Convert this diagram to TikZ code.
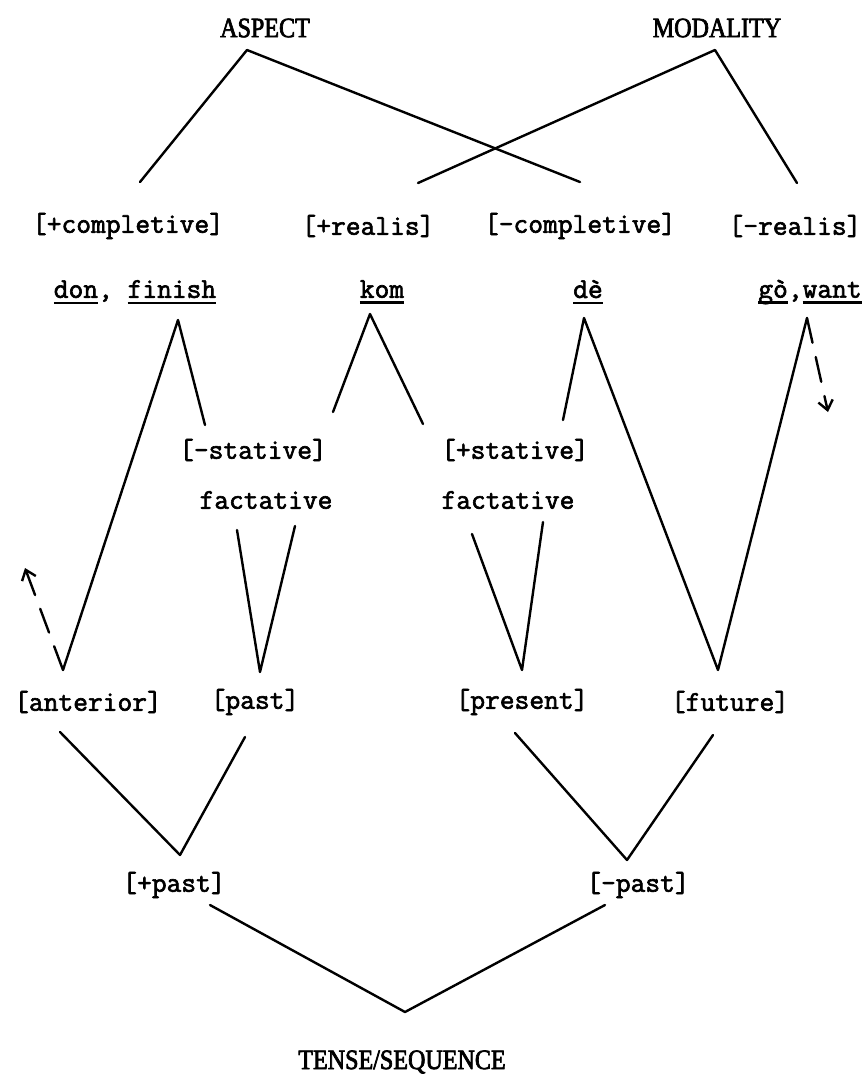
\documentclass[tikz,border=0pt]{standalone}
\usepackage{fontspec}
\newfontfamily\typew{Latin Modern Mono}[FakeBold=2.2]
\newfontfamily\capsfont{Liberation Serif}[FakeBold=2.5,FakeStretch=0.86]
\usetikzlibrary{arrows.meta}
\newcommand\myul[1]{\setbox0\hbox{#1}\leavevmode\rlap{\rule[-4.5pt]{\wd0}{1.7pt}}\box0}
\begin{document}
\begin{tikzpicture}[x=0.75pt,y=-0.75pt, line width=1.8pt, line cap=round, line join=round,
 lbl/.style={inner sep=0pt, font=\typew\fontsize{21.5}{23}\selectfont},
 capnode/.style={inner sep=0pt, font=\capsfont\fontsize{21}{22}\selectfont},
 dasharrow/.style={dash pattern=on 19pt off 11pt, -{Straight Barb[length=7pt,width=11pt]}}]
\useasboundingbox (0,0) rectangle (868,1086);
% labels
\node[capnode] (aspect) at (265,28) {ASPECT};
\node[capnode] (modality) at (717,28) {MODALITY};
\node[lbl] (pcompl) at (128,226) {[+completive]};
\node[lbl] (preal) at (368,226) {[+realis]};
\node[lbl] (mcompl) at (580,226) {[-completive]};
\node[lbl] (mreal) at (795,226) {[-realis]};
\node[lbl] (don) at (135,292) {\myul{don}, \myul{finish}};
\node[lbl] (kom) at (382,292) {\myul{kom}};
\node[lbl] (de) at (588,292) {\myul{dè}};
\node[lbl] (go) at (810,292) {\myul{gò},\myul{want}};
\node[lbl] (mstat) at (253,450) {[-stative]};
\node[lbl] (pstat) at (515,450) {[+stative]};
\node[lbl] (fact1) at (266,500) {factative};
\node[lbl] (fact2) at (508,500) {factative};
\node[lbl] (ant) at (88,702) {[anterior]};
\node[lbl] (past) at (255,702) {[past]};
\node[lbl] (pres) at (522,702) {[present]};
\node[lbl] (fut) at (730,702) {[future]};
\node[lbl] (ppast) at (174,885) {[+past]};
\node[lbl] (mpast) at (638,885) {[-past]};
\node[capnode] (tense) at (402,1062) {TENSE/SEQUENCE};
% connector end points
\coordinate (aA) at (247,50);
\coordinate (aL) at (140,182);
\coordinate (aR) at (580,182);
\coordinate (mA) at (715,50);
\coordinate (mL) at (418,183);
\coordinate (mR) at (797,183);
\coordinate (fA) at (178,320);
\coordinate (fR) at (205,425);
\coordinate (kA) at (370,314);
\coordinate (kL) at (333,412);
\coordinate (kR) at (423,424);
\coordinate (dA) at (584,318);
\coordinate (dL) at (563,420);
\coordinate (wA) at (807,318);
\coordinate (wD) at (828,412);
\coordinate (antA) at (63,670);
\coordinate (antT) at (25,568);
\coordinate (futA) at (718,670);
\coordinate (f1L) at (237,530);
\coordinate (f1R) at (295,526);
\coordinate (pastA) at (260,672);
\coordinate (f2L) at (472,534);
\coordinate (f2R) at (543,522);
\coordinate (presA) at (522,670);
\coordinate (antB) at (60,732);
\coordinate (pastB) at (245,737);
\coordinate (ppA) at (180,855);
\coordinate (presB) at (515,733);
\coordinate (futB) at (713,735);
\coordinate (mpA) at (627,860);
\coordinate (ppB) at (210,905);
\coordinate (mpB) at (605,905);
\coordinate (tsA) at (405,1012);
% connectors
\draw (aL) -- (aA) -- (aR);
\draw (mL) -- (mA) -- (mR);
\draw (antA) -- (fA) -- (fR);
\draw (kL) -- (kA) -- (kR);
\draw (dL) -- (dA) -- (futA) -- (wA);
\draw[dasharrow] (wA) -- (wD);
\draw[dasharrow] (antA) -- (antT);
\draw (f1L) -- (pastA) -- (f1R);
\draw (f2L) -- (presA) -- (f2R);
\draw (antB) -- (ppA) -- (pastB);
\draw (presB) -- (mpA) -- (futB);
\draw (ppB) -- (tsA) -- (mpB);
\end{tikzpicture}
\end{document}
